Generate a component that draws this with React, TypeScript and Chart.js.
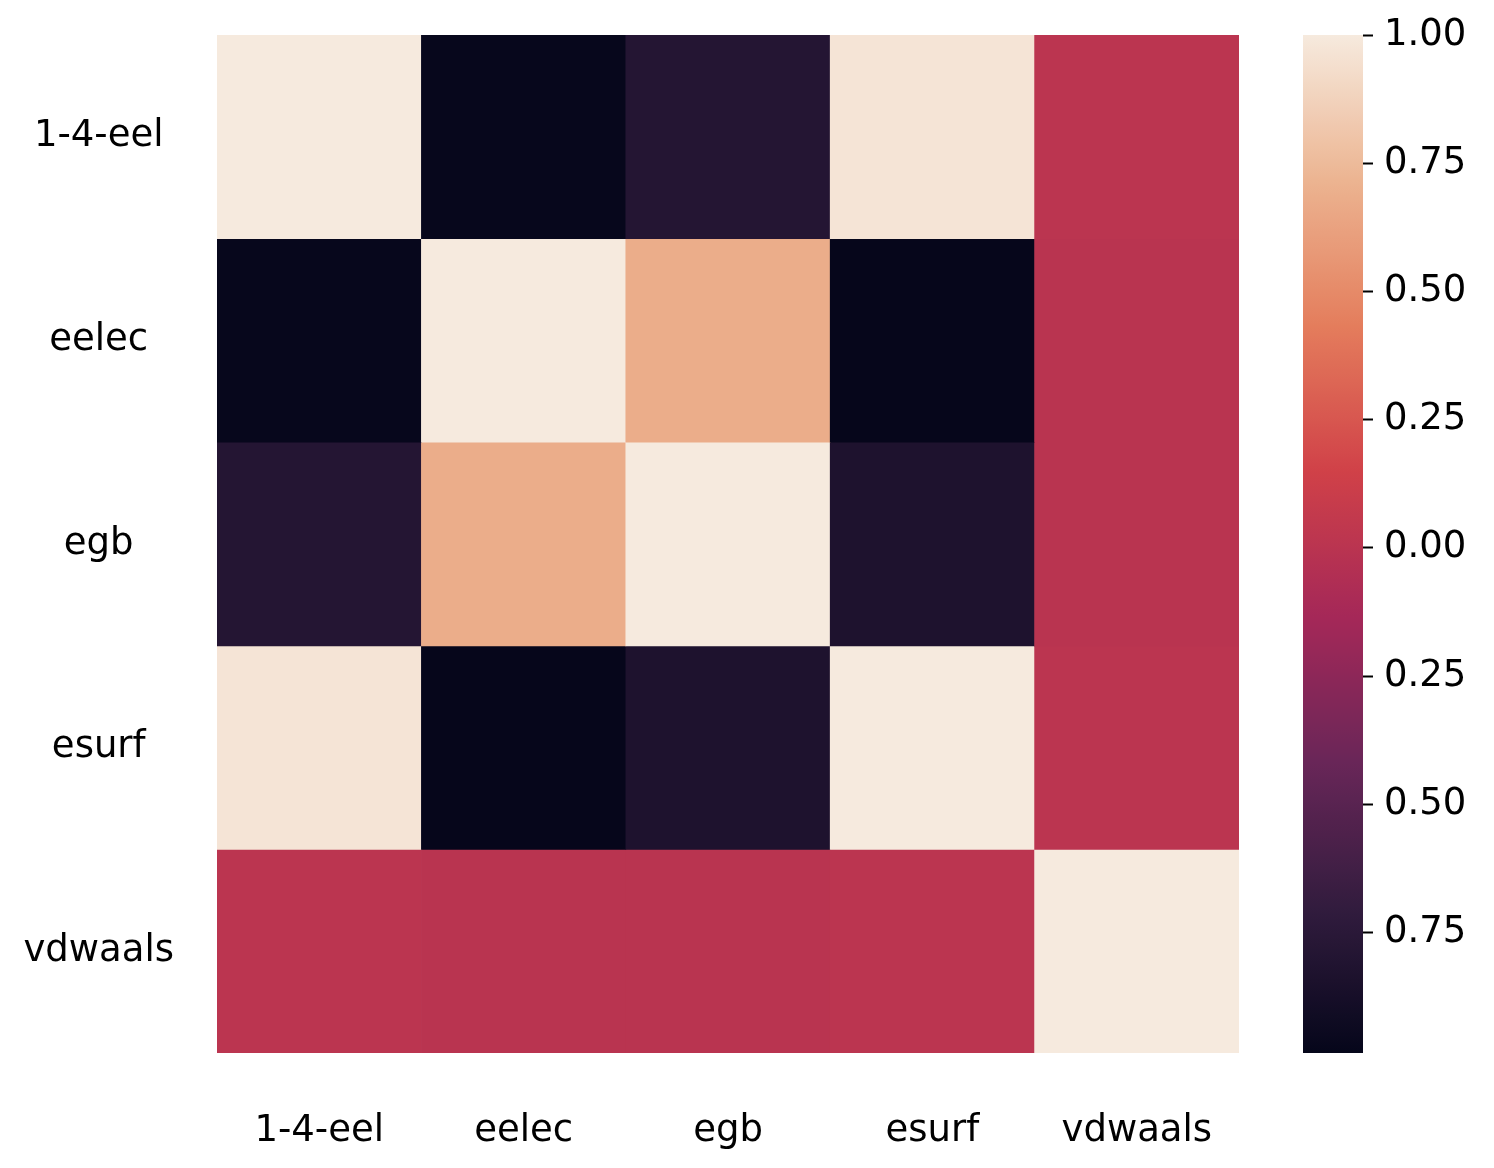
import React, { useEffect, useRef } from 'react';
import { Chart, registerables } from 'chart.js';

Chart.register(...registerables);

// ---- data ----
const LABELS = ['1-4-eel', 'eelec', 'egb', 'esurf', 'vdwaals'];
const ROW_1_4_EEL = [1.0, -0.97, -0.79, 0.97, 0.01];
const ROW_EELEC = [-0.97, 1.0, 0.68, -0.98, 0.0];
const ROW_EGB = [-0.79, 0.68, 1.0, -0.83, 0.0];
const ROW_ESURF = [0.97, -0.98, -0.83, 1.0, 0.01];
const ROW_VDWAALS = [0.01, 0.0, 0.0, 0.01, 1.0];
const MATRIX = [ROW_1_4_EEL, ROW_EELEC, ROW_EGB, ROW_ESURF, ROW_VDWAALS];

const CB_TICKS = [1.0, 0.75, 0.5, 0.25, 0.0, -0.25, -0.5, -0.75];
const V_MIN = -0.985;
const V_MAX = 1.0;

// muted "rocket"-style colormap stops (matching the picture)
const CMAP: [number, number[]][] = [
  [0 / 7, [5, 6, 26]],
  [1 / 7, [50, 28, 62]],
  [2 / 7, [105, 38, 88]],
  [3 / 7, [165, 40, 88]],
  [4 / 7, [208, 65, 72]],
  [5 / 7, [228, 125, 92]],
  [6 / 7, [236, 180, 145]],
  [7 / 7, [246, 234, 222]],
];

function cmap(t: number): string {
  const x = Math.max(0, Math.min(1, t));
  for (let i = 0; i < CMAP.length - 1; i++) {
    const [a, ca] = CMAP[i];
    const [b, cb] = CMAP[i + 1];
    if (x <= b) {
      const f = (x - a) / (b - a);
      const c = ca.map((v, k) => Math.round(v + (cb[k] - v) * f));
      return `rgb(${c[0]},${c[1]},${c[2]})`;
    }
  }
  const c = CMAP[CMAP.length - 1][1];
  return `rgb(${c[0]},${c[1]},${c[2]})`;
}

function colorFor(v: number): string {
  return cmap((v - V_MIN) / (V_MAX - V_MIN));
}

const FONT = 'DejaVu Sans';
const TEXT = '#000000';
const FONT_SIZE = 37;

export default function App() {
  const heatRef = useRef<HTMLCanvasElement | null>(null);
  const barRef = useRef<HTMLCanvasElement | null>(null);

  useEffect(() => {
    if (!heatRef.current || !barRef.current) return;

    const heat = new Chart(heatRef.current, {
      type: 'bar',
      data: {
        labels: LABELS,
        datasets: MATRIX.map((row, i) => ({
          label: LABELS[i],
          data: row.map(() => [i, i + 1]) as any,
          backgroundColor: row.map(colorFor),
          borderWidth: 0,
          grouped: false,
          barPercentage: 1,
          categoryPercentage: 1,
        })),
      },
      options: {
        responsive: false,
        animation: false,
        layout: { padding: { left: 0, top: 35, right: 31, bottom: 0 } },
        plugins: { legend: { display: false }, tooltip: { enabled: false } },
        scales: {
          x: {
            type: 'category',
            grid: { display: false },
            border: { display: false },
            ticks: {
              color: TEXT,
              font: { family: FONT, size: FONT_SIZE },
              padding: 48,
              maxRotation: 0,
              autoSkip: false,
            },
            afterFit: (s: any) => {
              s.height = 115;
              s.paddingLeft = 0;
              s.paddingRight = 0;
            },
          },
          y: {
            type: 'linear',
            min: 0,
            max: 5,
            reverse: true,
            grid: { display: false },
            border: { display: false },
            afterBuildTicks: (s: any) => {
              s.ticks = LABELS.map((_, i) => ({ value: i + 0.5 }));
            },
            ticks: {
              color: TEXT,
              font: { family: FONT, size: FONT_SIZE },
              crossAlign: 'center',
              padding: 35,
              callback: (v: any) => LABELS[Math.floor(Number(v))],
            },
            afterFit: (s: any) => {
              s.width = 217;
              s.paddingTop = 0;
              s.paddingBottom = 0;
            },
          },
        },
      } as any,
    });

    const cb = new Chart(barRef.current, {
      type: 'bar',
      data: {
        labels: ['cb'],
        datasets: [
          {
            data: [[V_MIN, V_MAX]] as any,
            backgroundColor: (ctx: any) => {
              const chart = ctx.chart;
              const ys = chart.scales && chart.scales.y;
              if (!chart.chartArea || !ys) return colorFor(0);
              const y0 = ys.getPixelForValue(V_MIN);
              const y1 = ys.getPixelForValue(V_MAX);
              const g = chart.ctx.createLinearGradient(0, y0, 0, y1);
              for (let i = 0; i <= 56; i++) {
                const t = i / 56;
                g.addColorStop(t, cmap(t));
              }
              return g;
            },
            borderWidth: 0,
            barPercentage: 1,
            categoryPercentage: 1,
          },
        ],
      },
      options: {
        responsive: false,
        animation: false,
        layout: { padding: { left: 13, top: 35, right: 0, bottom: 115 } },
        plugins: { legend: { display: false }, tooltip: { enabled: false } },
        scales: {
          x: { display: false },
          y: {
            type: 'linear',
            position: 'right',
            min: V_MIN,
            max: V_MAX,
            border: { display: false },
            grid: {
              drawOnChartArea: false,
              drawTicks: true,
              tickLength: 10,
              tickWidth: 2,
              tickColor: TEXT,
            },
            afterBuildTicks: (s: any) => {
              s.ticks = CB_TICKS.map((v) => ({ value: v }));
            },
            ticks: {
              color: TEXT,
              font: { family: FONT, size: FONT_SIZE },
              padding: 11,
              callback: (v: any) => Math.abs(Number(v)).toFixed(2),
            },
            afterFit: (s: any) => {
              s.width = 131;
              s.paddingTop = 0;
              s.paddingBottom = 0;
            },
          },
        },
      } as any,
    });

    return () => {
      heat.destroy();
      cb.destroy();
    };
  }, []);

  return (
    <div
      style={{
        position: 'absolute',
        left: 0,
        top: 0,
        width: 1494,
        height: 1168,
        background: '#ffffff',
        overflow: 'hidden',
      }}
    >
      <canvas
        ref={heatRef}
        width={1270}
        height={1168}
        style={{ position: 'absolute', left: 0, top: 0, display: 'block' }}
      />
      <canvas
        ref={barRef}
        width={204}
        height={1168}
        style={{ position: 'absolute', left: 1290, top: 0, display: 'block' }}
      />
    </div>
  );
}
